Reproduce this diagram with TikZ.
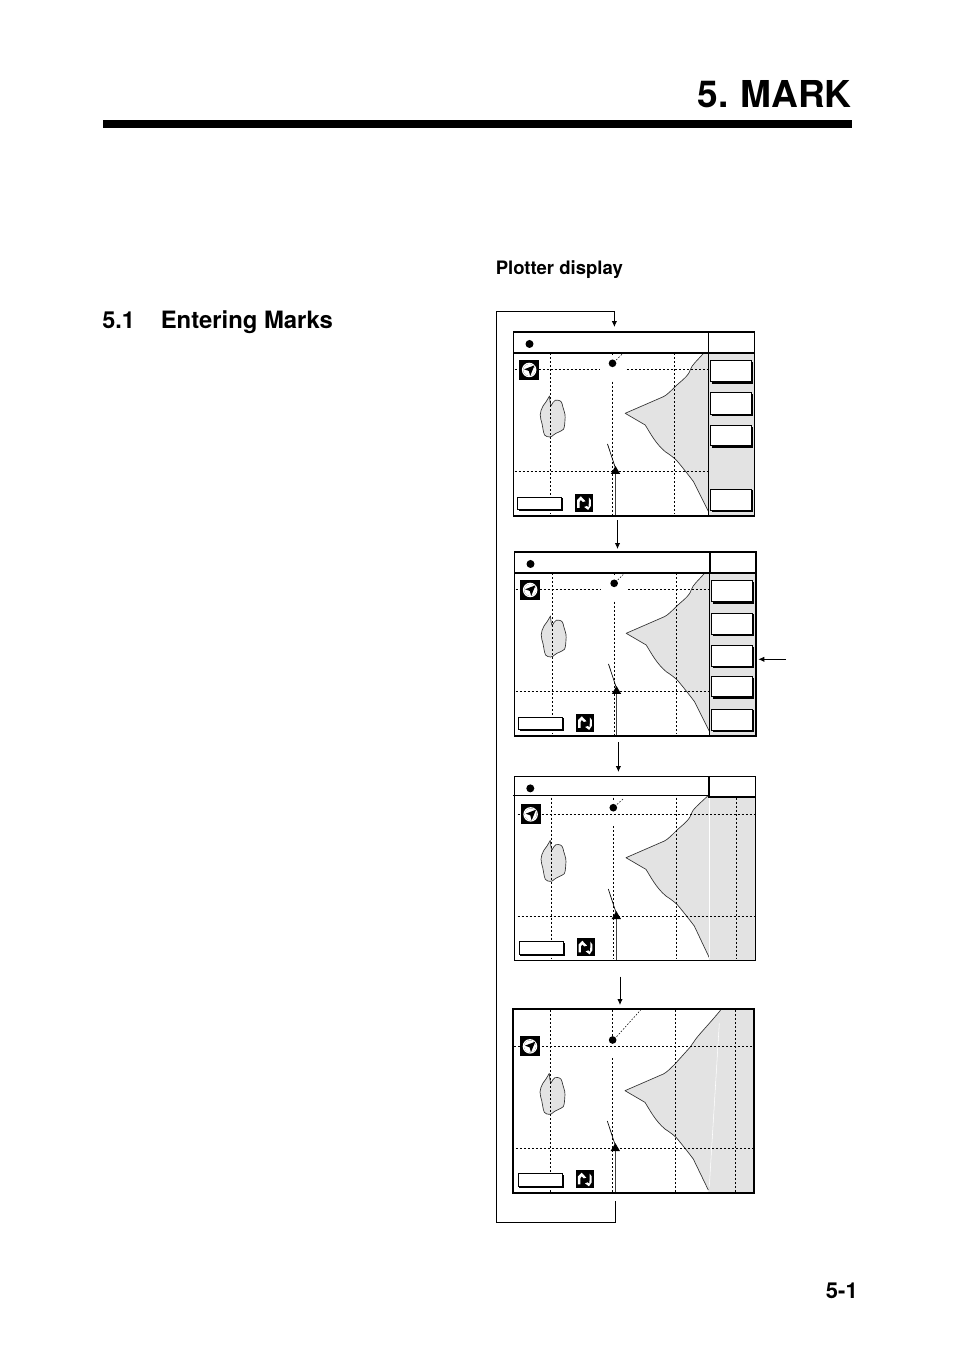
\documentclass[tikz,border=0pt]{standalone}
\usepackage{fontspec}
\setmainfont{TeX Gyre Heros}
\usetikzlibrary{arrows.meta}
\definecolor{landgray}{gray}{0.89}
\tikzset{
  px/.style={x=0.75pt,y=-0.75pt},
  frameline/.style={draw=black,line width=1.4pt},
  thinframe/.style={draw=black,line width=0.7pt},
  gridline/.style={draw=black,line width=0.6pt,dash pattern=on 1.5pt off 1.5pt},
  coast/.style={draw=black!80,line width=0.5pt,line join=round},
  softkey/.style={draw=black,fill=white,line width=0.5pt},
  keyshadow/.style={fill=black},
  conn/.style={draw=black,line width=0.6pt},
  arrowconn/.style={conn,-{Latex[length=4.5pt,width=4pt]}},
  heading/.style={font=\bfseries,anchor=base west,inner sep=0pt}
}
% button: x1,y1,x2,y2 in panel units
\newcommand{\softbtn}[4]{%
  \fill[keyshadow] (#1+3,#2+3) rectangle (#3+5,#4+6);
  \draw[softkey] (#1,#2) rectangle (#3,#4);}
\newcommand{\mapicons}{%
  \fill[black] (87,180) rectangle (147,240);
  \draw[white,line width=0.9pt] (117,210) circle (20);
  \fill[white] (117,210) circle (18);
  \fill[black] (133,196) -- (102,208) -- (116,213) -- (120,228) -- cycle;
  \fill[black] (255,582) rectangle (309,636);
  \fill[white] (261,624) -- (261,600) -- (272,589) -- (286,604) -- (278,606) -- (272,600) -- (268,606) -- (268,624) -- cycle;
  \fill[white] (296,592) -- (302,600) -- (302,618) -- (294,630) -- (282,621) -- (290,618) -- (295,622) -- (296,608) -- cycle;
  \fill[keyshadow] (85,595) rectangle (219,634);
  \draw[softkey] (82,592) rectangle (214,629);}
\newcommand{\islandpath}{(178,288) .. controls (179,300) and (180,312) .. (183,317) .. controls (188,312) and (188,303) .. (195,301) .. controls (205,299) and (214,302) .. (216,312) .. controls (218,325) and (226,340) .. (225,352) .. controls (224,365) and (224,380) .. (220,388) .. controls (212,395) and (198,398) .. (190,405) .. controls (185,412) and (172,414) .. (163,405) .. controls (158,395) and (158,375) .. (152,358) .. controls (146,340) and (155,320) .. (168,305) -- cycle}
\newcommand{\shipsymbols}{%
  \draw[black!75,line width=0.8pt] (376,520) -- (376,645);
  \draw[black,line width=0.5pt] (352,432) -- (376,505);
  \fill[black] (376,498) -- (390,522) -- (362,522) -- cycle;}
% coast from the top end round the point to the bottom end
\newcommand{\coastline}{.. controls (618,185) and (605,195) .. (600,210) .. controls (596,228) and (570,245) .. (555,260) .. controls (540,275) and (530,285) .. (520,290) -- (405,340) -- (465,375) .. controls (478,395) and (495,430) .. (525,455) .. controls (540,465) and (550,472) .. (560,482) .. controls (575,500) and (595,525) .. (610,545)}
\begin{document}
\begin{tikzpicture}[px]
\useasboundingbox (0,0) rectangle (954,1349);
\fill[white] (0,0) rectangle (954,1349);
% ---- page heading
\node[heading,anchor=base east,font=\bfseries\fontsize{27.8}{31}\selectfont] (title) at (852,107) {5.\hspace{-1.5pt} MARK};
\fill[black] (103,119.5) rectangle (852,127.7);
\node[heading,font=\bfseries\fontsize{17.6}{20}\selectfont] (sec) at (102,328.5) {5.1};
\node[heading,font=\bfseries\fontsize{17.9}{20}\selectfont] (sectitle) at (160.5,328.5) {Entering Marks};
\node[heading,font=\bfseries\fontsize{13.9}{15}\selectfont] (sub) at (495.5,274.5) {Plotter display};
\node[heading,anchor=base east,font=\bfseries\fontsize{16.5}{17}\selectfont] (pageno) at (858,1298) {5-1};
% ---- panel 1
\begin{scope}[shift={(513.5,332.3)},xscale=1/3,yscale=1/3,shift={(-70,-97)}]
  \fill[landgray] (655,158) rectangle (793,647);
  \fill[landgray] (640,160) \coastline -- (655,635) -- (655,160) -- cycle;
  \draw[coast] (640,160) \coastline -- (655,635);
  \filldraw[fill=landgray,coast] \islandpath;
  \draw[gridline] (181,160) -- (181,642);
  \draw[gridline] (367,245) -- (367,642);
  \draw[gridline] (367,160) -- (367,172);
  \draw[gridline] (553,160) -- (553,642);
  \draw[gridline] (73,208) -- (330,208);
  \draw[gridline] (410,208) -- (655,208);
  \draw[gridline] (73,514) -- (655,514);
  \fill[black] (367,190) circle (11.5);
  \draw[black,line width=0.4pt,dash pattern=on 1.2pt off 1.2pt] (378,180) -- (396,162);
  \fill[black] (118,132) circle (12);
  \shipsymbols
  \mapicons
  \softbtn{661}{182}{782}{245}
  \softbtn{661}{278}{782}{342}
  \softbtn{661}{377}{782}{437}
  \softbtn{661}{568}{782}{630}
  \draw[frameline] (70,97) rectangle (793,647);
  \draw[frameline] (70,158) -- (793,158);
  \draw[draw=black,line width=0.9pt] (655,97) -- (655,647);
\end{scope}
% ---- panel 2
\begin{scope}[shift={(514.5,552.3)},xscale=1/3,yscale=1/3,shift={(-70,-97)}]
  \fill[landgray] (655,158) rectangle (795,647);
  \fill[landgray] (640,160) \coastline -- (655,635) -- (655,160) -- cycle;
  \draw[coast] (640,160) \coastline -- (655,635);
  \filldraw[fill=landgray,coast] \islandpath;
  \draw[gridline] (184,160) -- (184,642);
  \draw[gridline] (370,245) -- (370,642);
  \draw[gridline] (370,160) -- (370,172);
  \draw[gridline] (556,160) -- (556,642);
  \draw[gridline] (73,208) -- (655,208);
  \fill[white] (330,200) rectangle (410,216);
  \draw[gridline] (73,514) -- (655,514);
  \fill[black] (369,190) circle (11.5);
  \draw[black,line width=0.4pt,dash pattern=on 1.2pt off 1.2pt] (380,180) -- (396,164);
  \fill[black] (118,132) circle (12);
  \shipsymbols
  \mapicons
  \softbtn{661}{182}{782}{245}
  \softbtn{661}{280}{782}{343}
  \softbtn{661}{377}{782}{438}
  \softbtn{661}{470}{782}{530}
  \softbtn{661}{568}{782}{630}
  \draw[frameline] (70,97) rectangle (795,647);
  \draw[frameline] (70,158) -- (795,158);
  \draw[frameline] (657,97) -- (657,158);
  \draw[draw=black,line width=0.7pt] (655,158) -- (655,647);
\end{scope}
% ---- panel 3
\begin{scope}[shift={(514.3,776.7)},xscale=1/3,yscale=1/3,shift={(-70,-97)}]
  \fill[landgray] (654,158) rectangle (794,647);
  \fill[landgray] (650,155) \coastline -- (655,640) -- (655,155) -- cycle;
  \draw[coast] (650,155) \coastline -- (655,640);
  \filldraw[fill=landgray,coast] \islandpath;
  \draw[white,line width=0.4pt] (654,160) -- (654,640);
  \draw[gridline] (181,160) -- (181,645);
  \draw[gridline] (367,245) -- (367,645);
  \draw[gridline] (367,160) -- (367,172);
  \draw[gridline] (556,160) -- (556,645);
  \draw[gridline] (736,160) -- (736,645);
  \draw[gridline] (80,210) -- (790,210);
  \draw[gridline] (80,516) -- (790,516);
  \fill[black] (367,190) circle (11.5);
  \draw[black,line width=0.4pt,dash pattern=on 1.2pt off 1.2pt] (378,180) -- (396,164);
  \fill[black] (118,132) circle (12);
  \begin{scope}[shift={(0,2)}]
    \shipsymbols
  \end{scope}
  \begin{scope}[shift={(2,0)}]
    \mapicons
  \end{scope}
  \draw[thinframe] (70,97) rectangle (794,647);
  \draw[thinframe] (67,153) -- (654,153);
  \draw[frameline] (654,97) -- (654,158) -- (794,158);
\end{scope}
% ---- panel 4
\begin{scope}[shift={(513.3,1009)},xscale=1/3,yscale=1/3,shift={(-70,-147)}]
  \fill[landgray] (692,150) .. controls (660,190) and (620,230) .. (612,245) -- (600,262) -- (555,312) .. controls (540,327) and (530,337) .. (520,342) -- (405,392) -- (465,427) .. controls (478,447) and (495,482) .. (525,507) .. controls (540,517) and (550,524) .. (560,534) .. controls (575,552) and (595,577) .. (610,597) -- (655,690) -- (655,697) -- (793,697) -- (793,150) -- cycle;
  \draw[coast] (692,150) .. controls (660,190) and (620,230) .. (612,245) -- (600,262) -- (555,312) .. controls (540,327) and (530,337) .. (520,342) -- (405,392) -- (465,427) .. controls (478,447) and (495,482) .. (525,507) .. controls (540,517) and (550,524) .. (560,534) .. controls (575,552) and (595,577) .. (610,597) -- (655,690);
  \begin{scope}[shift={(0,52)}]
    \filldraw[fill=landgray,coast] \islandpath;
  \end{scope}
  \draw[white,line width=0.4pt] (688,190) -- (658,680);
  \draw[gridline] (181,150) -- (181,695);
  \draw[gridline] (367,295) -- (367,695);
  \draw[gridline] (367,150) -- (367,228);
  \draw[gridline] (556,150) -- (556,695);
  \draw[gridline] (736,150) -- (736,695);
  \draw[gridline] (73,259) -- (790,259);
  \draw[gridline] (78,565) -- (790,565);
  \fill[black] (368,240) circle (11.5);
  \draw[black,line width=0.4pt,dash pattern=on 1.2pt off 1.2pt] (380,230) -- (452,150);
  \begin{scope}[shift={(0,51)}]
    \shipsymbols
  \end{scope}
  \begin{scope}[shift={(3,49)}]
    \mapicons
  \end{scope}
  \draw[frameline] (70,147) rectangle (793,698);
\end{scope}
% ---- connectors
\coordinate (c1) at (615.7,1201);
\coordinate (c2) at (615.7,1222.7);
\coordinate (c3) at (496.7,1222.7);
\coordinate (c4) at (496.7,311.7);
\coordinate (c5) at (614.4,311.7);
\coordinate (c6) at (614.4,327);
\draw[arrowconn] (c1) -- (c2) -- (c3) -- (c4) -- (c5) -- (c6);
\coordinate (a1) at (617.5,520);
\coordinate (a2) at (617.5,549);
\draw[arrowconn] (a1) -- (a2);
\coordinate (b1) at (618.4,742);
\coordinate (b2) at (618.4,772);
\draw[arrowconn] (b1) -- (b2);
\coordinate (d1) at (620,976.7);
\coordinate (d2) at (620,1005);
\draw[arrowconn] (d1) -- (d2);
\coordinate (e1) at (786,659.3);
\coordinate (e2) at (758.3,659.3);
\draw[arrowconn] (e1) -- (e2);
\end{tikzpicture}
\end{document}
